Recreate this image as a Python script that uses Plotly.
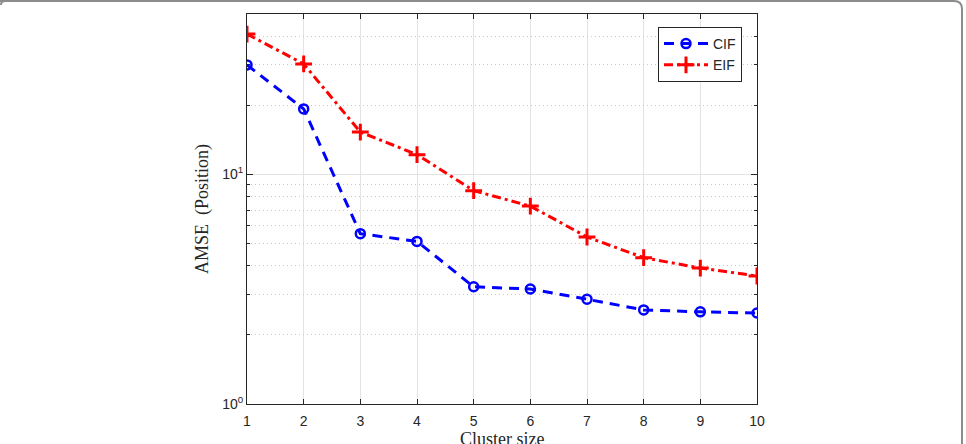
import numpy as np
import plotly.graph_objects as go

cluster_size = [1, 2, 3, 4, 5, 6, 7, 8, 9, 10]
cif_amse = [30.0, 19.3, 5.52, 5.11, 3.24, 3.17, 2.86, 2.57, 2.52, 2.49]
eif_amse = [40.9, 30.3, 15.3, 12.2, 8.5, 7.28, 5.34, 4.34, 3.91, 3.61]

y_major = [1, 10]
y_major_text = ["10<sup>0</sup>", "10<sup>1</sup>"]
y_minor = [2, 3, 4, 5, 6, 7, 8, 9, 20, 30, 40, 50]
y_max = 50

W, H = 966, 444
ML, MR, MT, MB = 247, 209, 14, 40
PW, PH = W - ML - MR, H - MT - MB

fig = go.Figure()
fig.add_trace(go.Scatter(
    x=cluster_size, y=cif_amse, name="CIF", mode="lines+markers",
    line=dict(color="#0000ff", width=3, dash="10px,7px"),
    marker=dict(symbol="circle-open", size=9, color="#0000ff", line=dict(width=2.5)),
))
fig.add_trace(go.Scatter(
    x=cluster_size, y=eif_amse, name="EIF", mode="lines+markers",
    line=dict(color="#ff0000", width=3, dash="9px,4px,3px,4px"),
    marker=dict(symbol="cross-thin-open", size=12, color="#ff0000", line=dict(width=3)),
))
# invisible trace to activate minor-grid overlay axis
fig.add_trace(go.Scatter(x=[cluster_size[0]], y=[y_major[0]], yaxis="y2",
                         mode="markers", marker=dict(opacity=0), showlegend=False,
                         hoverinfo="skip"))

axis_font = dict(family="Liberation Sans, Arial", size=14, color="#262626")
title_font = dict(family="Liberation Serif, Times New Roman", size=18, color="#262626")

fig.update_layout(
    width=W, height=H,
    margin=dict(l=ML, r=MR, t=MT, b=MB, autoexpand=False),
    paper_bgcolor="white", plot_bgcolor="white",
    showlegend=True,
    legend=dict(
        x=(658 - ML) / PW, y=(H - MB - 27) / PH, xanchor="left", yanchor="top",
        bgcolor="white", bordercolor="#262626", borderwidth=1,
        font=dict(family="Liberation Sans, Arial", size=14, color="#262626"),
        tracegroupgap=0, itemwidth=44,
    ),
    xaxis=dict(
        range=[1, 10], tickvals=cluster_size, ticktext=[str(v) for v in cluster_size],
        ticks="inside", ticklen=5, tickcolor="#262626", showline=True, linecolor="#262626",
        linewidth=1, mirror="ticks", showgrid=True, gridcolor="#e3e3e3", gridwidth=1,
        zeroline=False, tickfont=axis_font, automargin=False, ticklabelstandoff=4,
    ),
    yaxis=dict(
        type="log", range=[0, np.log10(y_max)], tickvals=y_major, ticktext=y_major_text,
        ticks="inside", ticklen=6, tickcolor="#262626", showline=True, linecolor="#262626",
        linewidth=1, mirror="ticks", showgrid=True, gridcolor="#e3e3e3", gridwidth=1,
        zeroline=False, tickfont=axis_font, automargin=False,
        title=dict(text="AMSE  (Position)", font=title_font, standoff=8),
    ),
    yaxis2=dict(
        type="log", range=[0, np.log10(y_max)], overlaying="y", side="left",
        tickvals=y_minor, showticklabels=False, ticks="inside", ticklen=3,
        tickcolor="#262626", showline=False, mirror="ticks", automargin=False,
        showgrid=True, gridcolor="#c8c8c8", griddash="1px,3px", gridwidth=1,
        zeroline=False, layer="below traces",
    ),
)

# x-axis title placed below tick labels (partially cut by the figure edge, as in reference)
fig.add_annotation(text="Cluster size", xref="paper", yref="paper", x=0.5, y=0,
                   xanchor="center", yanchor="top", yshift=-23, showarrow=False,
                   font=title_font)

# outer rounded frame (figure border)
def px2paper(px, py):
    return (px - ML) / PW, (H - MB - py) / PH

r = 8
pts = [(0, 1), (962 - r, 1), (962, 1), (962, 1 + r), (962, 446)]
p = [px2paper(*q) for q in pts]
path = (f"M {p[0][0]},{p[0][1]} L {p[1][0]},{p[1][1]} "
        f"Q {p[2][0]},{p[2][1]} {p[3][0]},{p[3][1]} L {p[4][0]},{p[4][1]}")
fig.add_shape(type="path", path=path, xref="paper", yref="paper",
              line=dict(color="#8c8c8c", width=2), layer="above")
tl = [px2paper(1, 5), px2paper(1, 1), px2paper(5, 1)]
fig.add_shape(type="path",
              path=f"M {tl[0][0]},{tl[0][1]} Q {tl[1][0]},{tl[1][1]} {tl[2][0]},{tl[2][1]}",
              xref="paper", yref="paper", line=dict(color="#8c8c8c", width=2))

fig.write_html("out.html")
